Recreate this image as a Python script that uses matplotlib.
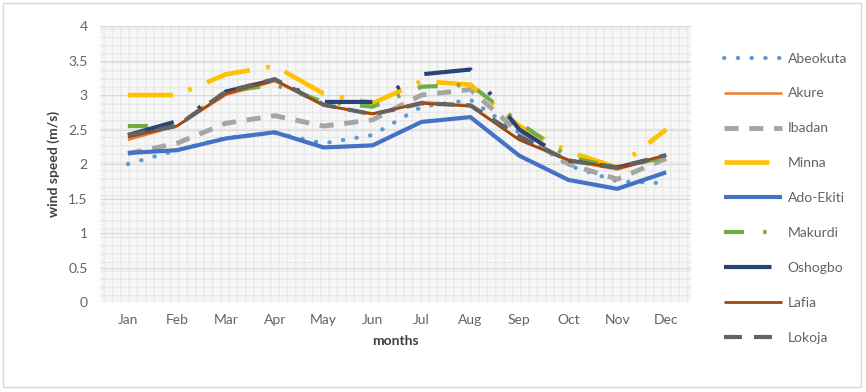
import numpy as np
import matplotlib
matplotlib.use("Agg")
import matplotlib.pyplot as plt
from matplotlib.patches import Rectangle
from matplotlib.ticker import FormatStrFormatter

plt.rcParams['font.family'] = ['Lato', 'DejaVu Sans']

months = ["Jan", "Feb", "Mar", "Apr", "May", "Jun", "Jul", "Aug", "Sep", "Oct", "Nov", "Dec"]

abeokuta = [2.00, 2.20, 2.38, 2.45, 2.30, 2.42, 2.83, 2.93, 2.45, 1.98, 1.75, 1.72]
akure = [2.35, 2.55, 3.00, 3.20, 2.85, 2.72, 2.90, 2.85, 2.35, 2.05, 1.92, 2.12]
ibadan = [2.15, 2.30, 2.59, 2.70, 2.55, 2.64, 3.00, 3.08, 2.45, 2.00, 1.78, 2.08]
minna = [3.00, 3.00, 3.30, 3.42, 3.02, 2.88, 3.20, 3.15, 2.55, 2.18, 1.95, 2.50]
ado_ekiti = [2.16, 2.20, 2.37, 2.46, 2.24, 2.27, 2.61, 2.68, 2.12, 1.77, 1.64, 1.88]
makurdi = [2.55, 2.55, 3.05, 3.15, 2.90, 2.83, 3.12, 3.15, 2.60, 2.10, 1.95, 2.10]
oshogbo = [2.42, 2.62, 3.05, 3.22, 2.90, 2.90, 3.30, 3.37, 2.50, 2.05, 1.95, 2.12]
lafia = [2.39, 2.55, 3.02, 3.22, 2.85, 2.73, 2.88, 2.84, 2.35, 2.06, 1.94, 2.13]
lokoja = [2.42, 2.55, 3.05, 3.23, 2.86, 2.72, 2.88, 2.85, 2.40, 2.05, 1.95, 2.13]

# name, values, colour, width (pt), dash pattern (in line widths), cap
series = [
    ("Abeokuta", abeokuta, "#5B9BD5", 3.0, (0.1, 3.2), "round"),
    ("Akure", akure, "#ED7D31", 1.8, None, "butt"),
    ("Ibadan", ibadan, "#A5A5A5", 3.5, (2.9, 2.2), "butt"),
    ("Minna", minna, "#FFC000", 3.3, (9.8, 3.6, 0.8, 3.6), "butt"),
    ("Ado-Ekiti", ado_ekiti, "#4472C4", 3.0, None, "butt"),
    ("Makurdi", makurdi, "#70AD47", 3.0, (4.8, 4.6, 0.8, 4.6), "butt"),
    ("Oshogbo", oshogbo, "#264478", 3.0, (11.4, 6.7, 0.8, 6.7), "butt"),
    ("Lafia", lafia, "#9E480E", 2.0, None, "butt"),
    ("Lokoja", lokoja, "#636363", 3.0, (4.3, 2.9), "butt"),
]

fig = plt.figure(figsize=(8.66, 3.92), dpi=100)
fig.patch.set_facecolor("white")
fig.patches.append(Rectangle((0.004, 0.012), 0.99, 0.98, transform=fig.transFigure,
                             fill=False, edgecolor="#d9d9d9", linewidth=1.0))

ax = fig.add_axes([0.1155, 0.2296, 0.682, 0.704])
ax.set_facecolor("#f7f7f7")
ax.add_patch(Rectangle((0, 0), 1, 1, transform=ax.transAxes, facecolor="none",
                       edgecolor="#e8e8e8", hatch="++", linewidth=0, zorder=0))

x = np.arange(len(months))
for name, vals, color, lw, dash, cap in series:
    line, = ax.plot(x, vals, color=color, linewidth=lw, label=name,
                    solid_capstyle=cap, dash_capstyle=cap, zorder=3)
    if dash is not None:
        line.set_dashes(dash)

ax.set_xlim(-0.57, 11.5)
ax.set_ylim(0, 4)
ax.set_yticks(np.arange(0, 4.01, 0.5))
ax.yaxis.set_major_formatter(FormatStrFormatter("%g"))
ax.set_xticks(x)
ax.set_xticklabels(months)
ax.grid(axis="y", color="#d9d9d9", linewidth=0.8, zorder=1)
ax.set_axisbelow(True)
for s in ax.spines.values():
    s.set_visible(False)
ax.tick_params(length=0, colors="#636363", labelsize=10, pad=9)

ax.set_xlabel("months", fontsize=10, fontweight="bold", color="#404040", labelpad=6)
ax.set_ylabel("wind speed (m/s)", fontsize=10, fontweight="bold", color="#404040", labelpad=6)

ax.legend(loc="upper left", bbox_to_anchor=(0.836, 0.866), bbox_transform=fig.transFigure,
          frameon=False, fontsize=10, handlelength=4.2, handletextpad=0.4,
          labelspacing=1.65, borderpad=0, borderaxespad=0, labelcolor="#636363")

fig.savefig("out.png", dpi=100)
